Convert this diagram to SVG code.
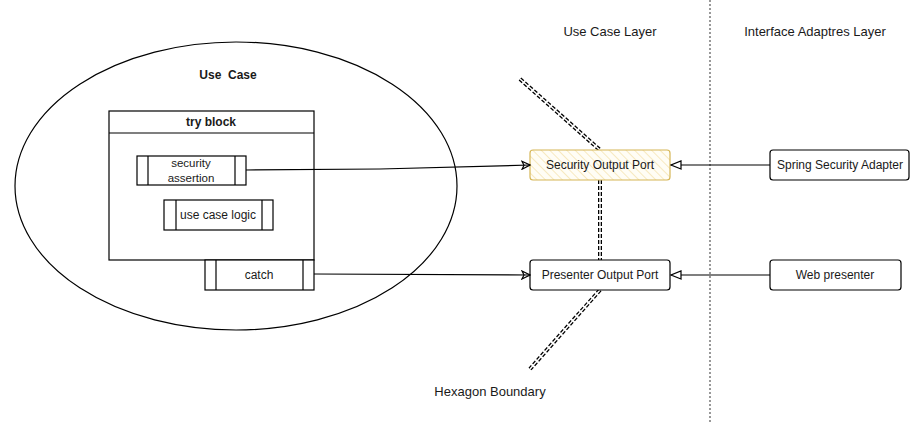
<svg xmlns="http://www.w3.org/2000/svg" width="911" height="422" viewBox="0 0 911 422">
<defs>
<style>
text{font-family:"Liberation Sans",Arial,sans-serif;font-size:12px;fill:#1a1a1a;text-anchor:middle;dominant-baseline:central}
.b{font-weight:bold}
.h{font-size:13px}
.s{fill:#fff;stroke:#000;stroke-width:1.2}
.ln{fill:none;stroke:#000;stroke-width:1.2}
.bd{fill:none;stroke:#000;stroke-width:4;stroke-dasharray:4 2}
.bdw{fill:none;stroke:#fff;stroke-width:1.4}
</style>
<pattern id="hatch" width="6" height="6" patternUnits="userSpaceOnUse" patternTransform="rotate(-45)">
<rect width="6" height="6" fill="#fffdf5"/>
<line x1="0" y1="0" x2="0" y2="6" stroke="#f7e9c0" stroke-width="2"/>
</pattern>
<marker id="open" viewBox="0 0 10 10" refX="9" refY="5" markerWidth="10" markerHeight="10" markerUnits="userSpaceOnUse" orient="auto">
<path d="M1,1 L9,5 L1,9 L3,5 Z" fill="none" stroke="#000" stroke-width="1.2"/>
</marker>
<marker id="tri" viewBox="0 0 12 10" refX="11" refY="5" markerWidth="12" markerHeight="10" markerUnits="userSpaceOnUse" orient="auto">
<path d="M1,1 L11,5 L1,9 Z" fill="#fff" stroke="#000" stroke-width="1.2"/>
</marker>
</defs>
<rect width="911" height="422" fill="#fff"/>

<g id="layer-divider">
<line x1="710" y1="0" x2="710" y2="422" stroke="#555" stroke-width="1.2" stroke-dasharray="2 2"/>
</g>

<g id="labels">
<text class="h" x="610" y="31">Use Case Layer</text>
<text class="h" x="815" y="31">Interface Adaptres Layer</text>
<text class="h" x="490" y="391">Hexagon Boundary</text>
</g>

<g id="hexagon-boundary">
<path class="bd" d="M520,79 L600,150 M600,180 L600,260 M600,290 L530,369"/>
<path class="bdw" d="M520,79 L600,150 M600,180 L600,260 M600,290 L530,369"/>
</g>

<g id="use-case">
<ellipse cx="236" cy="186" rx="221" ry="144" fill="none" stroke="#000" stroke-width="1.2"/>
<text class="b" x="228" y="75" style="white-space:pre" xml:space="preserve">Use  Case</text>
</g>

<g id="try-block">
<rect class="s" x="109" y="111" width="205" height="149"/>
<line class="ln" x1="109" y1="133" x2="314" y2="133"/>
<text class="b" x="211" y="122">try block</text>
</g>

<g id="security-assertion">
<rect class="s" x="137" y="156" width="109" height="29"/>
<line class="ln" x1="148" y1="156" x2="148" y2="185"/>
<line class="ln" x1="235" y1="156" x2="235" y2="185"/>
<text x="191" y="163" style="font-size:11.5px">security</text>
<text x="191" y="178" style="font-size:11.5px">assertion</text>
</g>

<g id="use-case-logic">
<rect class="s" x="164" y="200" width="109" height="30"/>
<line class="ln" x1="176" y1="200" x2="176" y2="230"/>
<line class="ln" x1="262" y1="200" x2="262" y2="230"/>
<text x="218" y="215">use case logic</text>
</g>

<g id="catch">
<rect class="s" x="205" y="260" width="109" height="30"/>
<line class="ln" x1="216" y1="260" x2="216" y2="290"/>
<line class="ln" x1="303" y1="260" x2="303" y2="290"/>
<text x="259" y="275">catch</text>
</g>

<g id="security-output-port">
<rect x="530" y="150" width="140" height="30" rx="3" fill="url(#hatch)" stroke="#d6b656" stroke-width="1.2"/>
<text x="600" y="165">Security Output Port</text>
</g>

<g id="presenter-output-port">
<rect class="s" x="530" y="260" width="140" height="30" rx="3"/>
<text x="600" y="275">Presenter Output Port</text>
</g>

<g id="spring-security-adapter">
<rect class="s" x="770" y="150" width="139" height="30" rx="3"/>
<text x="840" y="165">Spring Security Adapter</text>
</g>

<g id="web-presenter">
<rect class="s" x="770" y="260" width="131" height="30" rx="3"/>
<text x="835" y="275">Web presenter</text>
</g>

<g id="connectors">
<path class="ln" d="M246,170 L380,169 L530,165" marker-end="url(#open)"/>
<path class="ln" d="M314,274 L530,275" marker-end="url(#open)"/>
<path class="ln" d="M770,165 L671,165" marker-end="url(#tri)"/>
<path class="ln" d="M770,275 L671,275" marker-end="url(#tri)"/>
</g>
</svg>
